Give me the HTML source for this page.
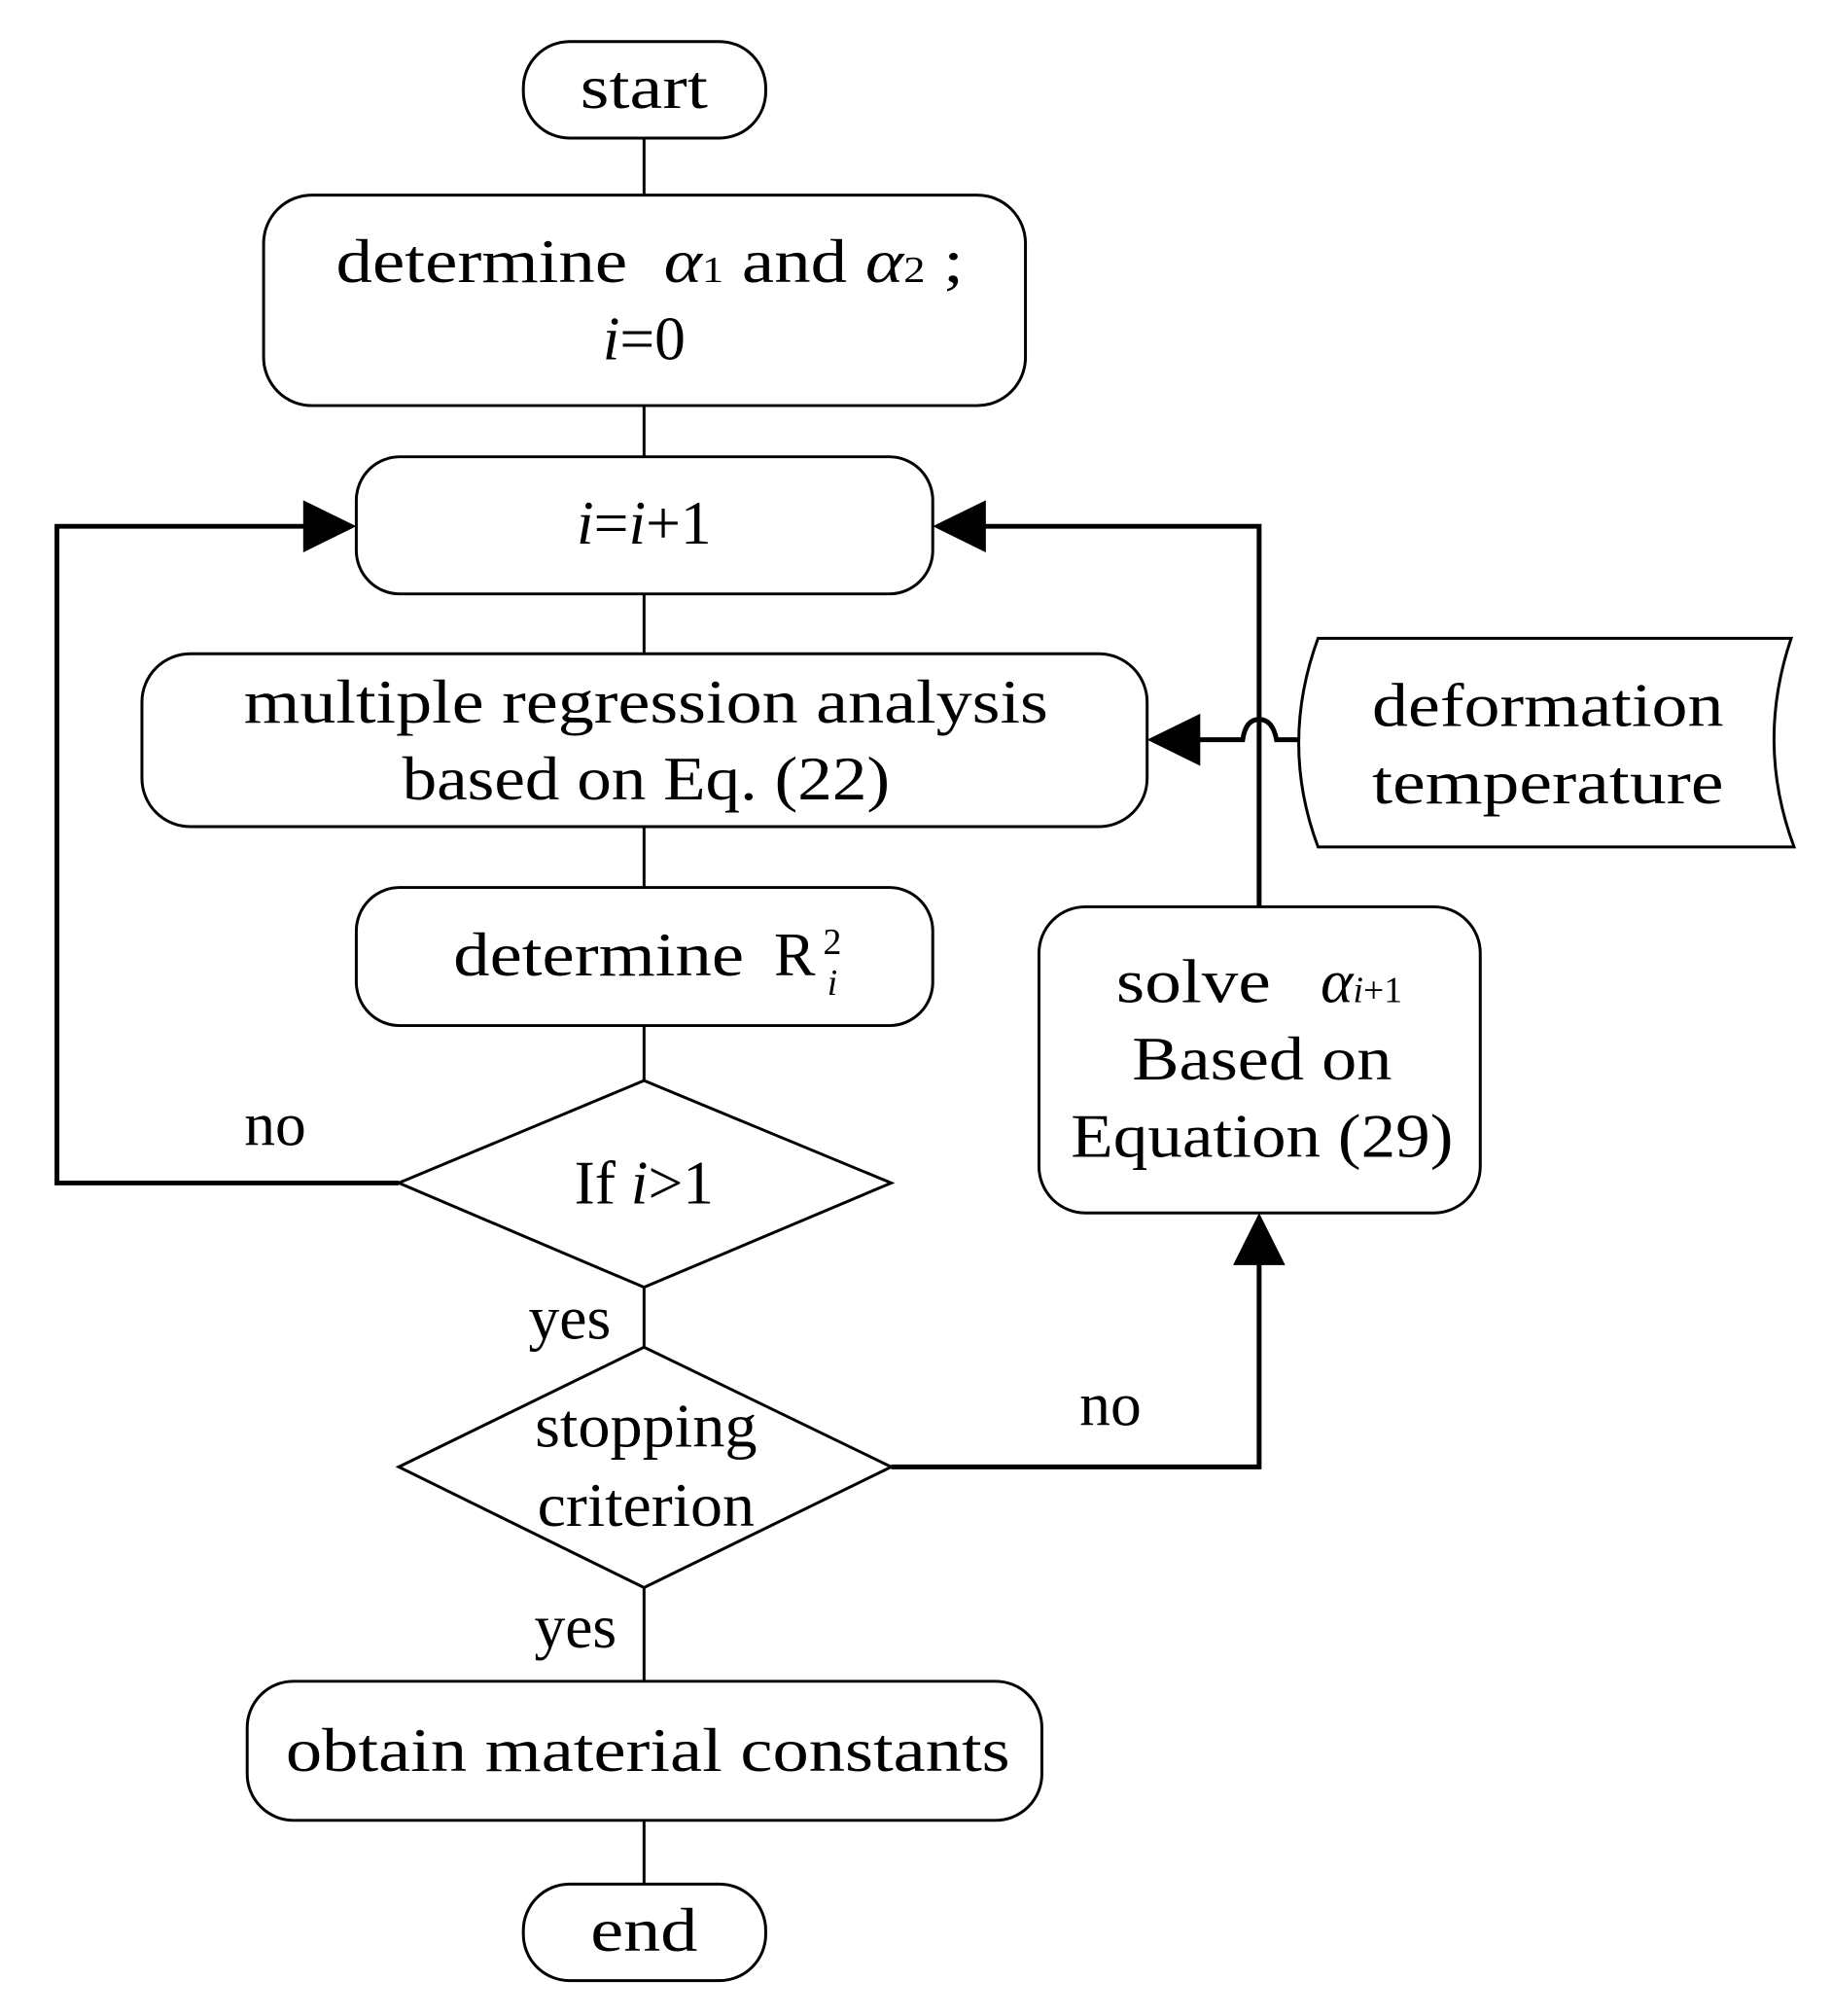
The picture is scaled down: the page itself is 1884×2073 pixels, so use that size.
<!DOCTYPE html>
<html><head><meta charset="utf-8"><style>html,body{margin:0;padding:0;background:#fff}</style></head>
<body>
<svg width="1884" height="2068" viewBox="0 0 1884 2068" xmlns="http://www.w3.org/2000/svg" font-family="Liberation Serif, serif" font-size="64" text-anchor="middle">
<g transform="scale(0.993)">
<g fill="none" stroke="#000" stroke-width="3">
<rect x="542" y="43" width="251" height="100" rx="48"/>
<rect x="273" y="202" width="789" height="218" rx="50"/>
<rect x="369" y="473" width="597" height="142" rx="45"/>
<rect x="147" y="677" width="1041" height="179" rx="50"/>
<rect x="369" y="919" width="597" height="143" rx="45"/>
<polygon points="413,1225 667,1119 923,1225 667,1333"/>
<polygon points="413,1519 667,1395 923,1519 667,1644"/>
<rect x="256" y="1741" width="823" height="144" rx="48"/>
<rect x="542" y="1951" width="251" height="100" rx="48"/>
<rect x="1076" y="939" width="457" height="317" rx="48"/>
<path d="M1365,661 L1855,661 Q1818,770 1858,877 L1365,877 Q1325,770 1365,661 Z"/>
<line x1="667" y1="143" x2="667" y2="202"/>
<line x1="667" y1="420" x2="667" y2="473"/>
<line x1="667" y1="615" x2="667" y2="677"/>
<line x1="667" y1="856" x2="667" y2="919"/>
<line x1="667" y1="1062" x2="667" y2="1119"/>
<line x1="667" y1="1333" x2="667" y2="1395"/>
<line x1="667" y1="1644" x2="667" y2="1741"/>
<line x1="667" y1="1885" x2="667" y2="1951"/>
</g>
<g fill="none" stroke="#000" stroke-width="5">
<polyline points="413,1225 59,1225 59,545 320,545"/>
<polyline points="1304,939 1304,545 1015,545"/>
<polyline points="923,1519 1304,1519 1304,1305"/>
<path d="M1345,766 L1322,766 Q1318,745 1304,745 Q1290,745 1287,766 L1236,766"/>
</g>
<g fill="#000">
<polygon points="369,545 314,518 314,572"/>
<polygon points="966,545 1021,518 1021,572"/>
<polygon points="1188,766 1243,739 1243,793"/>
<polygon points="1304,1256 1277,1310 1331,1310"/>
</g>
<g fill="#000">
<text x="667" y="112" textLength="132" lengthAdjust="spacingAndGlyphs">start</text>
<text x="673" y="292" textLength="650" lengthAdjust="spacingAndGlyphs">determine &#160;<tspan font-style="italic">α</tspan><tspan font-size="38">1</tspan> and <tspan font-style="italic">α</tspan><tspan font-size="38">2</tspan> ;</text>
<text x="667" y="372"><tspan font-style="italic">i</tspan>=0</text>
<text x="667" y="563"><tspan font-style="italic">i</tspan>=<tspan font-style="italic">i</tspan>+1</text>
<text x="669" y="748" textLength="833" lengthAdjust="spacingAndGlyphs">multiple regression analysis</text>
<text x="669" y="828" textLength="505" lengthAdjust="spacingAndGlyphs">based on Eq. (22)</text>
<text x="620" y="1010" textLength="301" lengthAdjust="spacingAndGlyphs">determine</text>
<text x="823" y="1010">R</text>
<text x="862" y="988" font-size="38">2</text>
<text x="862" y="1030" font-size="38" font-style="italic">i</text>
<text x="667" y="1246">If <tspan font-style="italic">i</tspan>&gt;1</text>
<text x="669" y="1498" textLength="230" lengthAdjust="spacingAndGlyphs">stopping</text>
<text x="669" y="1580" textLength="225" lengthAdjust="spacingAndGlyphs">criterion</text>
<text x="671" y="1834" textLength="750" lengthAdjust="spacingAndGlyphs">obtain material constants</text>
<text x="667" y="2020" textLength="111" lengthAdjust="spacingAndGlyphs">end</text>
<text x="1236" y="1038" textLength="160" lengthAdjust="spacingAndGlyphs">solve</text>
<text x="1410" y="1038"><tspan font-style="italic">α</tspan><tspan font-size="38"><tspan font-style="italic">i</tspan>+1</tspan></text>
<text x="1307" y="1118" textLength="269" lengthAdjust="spacingAndGlyphs">Based on</text>
<text x="1307" y="1198" textLength="396" lengthAdjust="spacingAndGlyphs">Equation (29)</text>
<text x="1603" y="752" textLength="364" lengthAdjust="spacingAndGlyphs">deformation</text>
<text x="1603" y="832" textLength="364" lengthAdjust="spacingAndGlyphs">temperature</text>
<text x="285" y="1186">no</text>
<text x="590" y="1386">yes</text>
<text x="1150" y="1476">no</text>
<text x="596" y="1706">yes</text>
</g>
</g>
</svg>
</body></html>
